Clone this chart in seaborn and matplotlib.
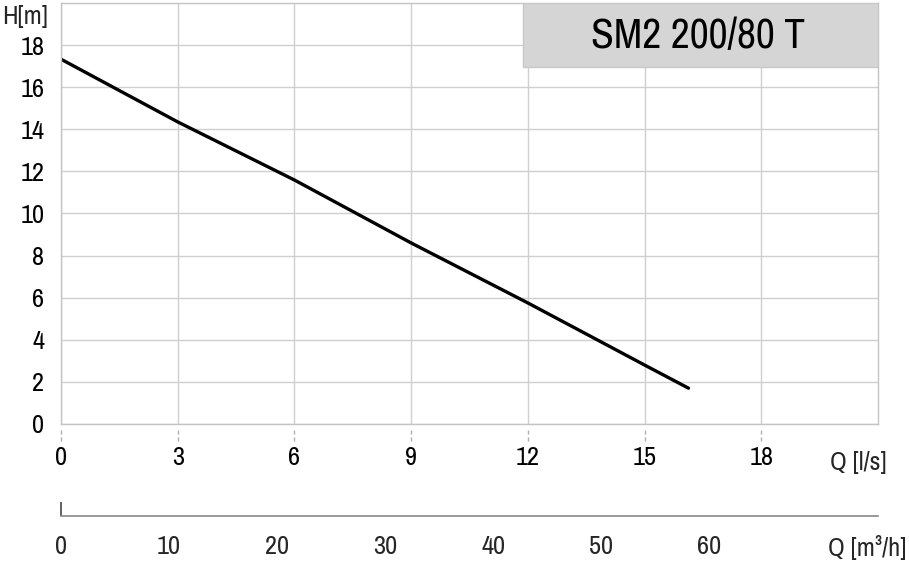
import matplotlib
matplotlib.use("Agg")
import matplotlib.pyplot as plt
import matplotlib.font_manager as fm
import numpy as np
import pandas as pd
import seaborn as sns

# Pump performance curve: head H versus flow Q
flow_ls = [0.0, 3.0, 6.0, 9.0, 12.0, 15.0, 16.13]
head_m = [17.33, 14.35, 11.59, 8.6, 5.75, 2.8, 1.7]

x_ticks_ls = [0, 3, 6, 9, 12, 15, 18]
y_ticks_m = [0, 2, 4, 6, 8, 10, 12, 14, 16, 18]
x_ticks_m3h = [0, 10, 20, 30, 40, 50, 60]
model_name = "SM2 200/80 T"

sns.set_style("white")
names = {f.name for f in fm.fontManager.ttflist}
fam = [f for f in ["Archivo Narrow", "Roboto Condensed", "Liberation Sans", "DejaVu Sans"] if f in names]
plt.rcParams["font.family"] = fam
FS = 19

fig = plt.figure(figsize=(9.09, 5.62), dpi=100)
ax = fig.add_axes([0.0671, 0.2456, 0.8988, 0.7491])

df = pd.DataFrame({"Q": flow_ls, "H": head_m})
sns.lineplot(data=df, x="Q", y="H", ax=ax, color="black", linewidth=2.4)

ax.set_xlim(0, 21)
ax.set_ylim(0, 20)
ax.set_xticks(x_ticks_ls)
ax.set_yticks(y_ticks_m)
ax.grid(True, color="#cfcfcf", linewidth=1.0)
for s in ax.spines.values():
    s.set_color("#c4c4c4")
    s.set_linewidth(1.0)
ax.tick_params(axis="both", length=0, labelsize=FS, labelcolor="black")
ax.tick_params(axis="x", pad=16)
ax.tick_params(axis="y", pad=12)
ax.set_xlabel("")
ax.set_ylabel("")

# dashed tick marks under the flow axis
ax.vlines(x_ticks_ls, -0.015, -0.042, transform=ax.get_xaxis_transform(),
          colors="#b0b0b0", linewidth=1.0, linestyles=(0, (3, 2)), clip_on=False)

# model name box
ax.add_patch(plt.Rectangle((0.5655, 0.848), 0.4345, 0.152, transform=ax.transAxes,
                           facecolor="#d5d5d5", edgecolor="#c8c8c8", linewidth=1.0, zorder=3))
ax.text(0.780, 0.922, model_name, transform=ax.transAxes, ha="center", va="center",
        fontsize=30, color="black", zorder=4)

fig.text(2 / 909, 1 - 17 / 562, "H[m]", ha="left", va="center", fontsize=FS)
fig.text(887 / 909, 1 - 462 / 562, "Q [l/s]", ha="right", va="center", fontsize=FS)

# secondary flow scale in m3/h
ax2 = fig.add_axes([0.0671, 0.0819, 0.8988, 0.001])
ax2.set_xlim(0, 21 * 3.6)
ax2.set_xticks(x_ticks_m3h)
ax2.set_yticks([])
for k in ["top", "left", "right"]:
    ax2.spines[k].set_visible(False)
ax2.spines["bottom"].set_color("#888888")
ax2.spines["bottom"].set_linewidth(1.2)
ax2.tick_params(axis="x", direction="out", length=10, width=1.3, color="#555555",
                labelsize=FS, pad=4)
ax2.set_facecolor("none")
ax2.vlines([0], 0, 14 / 562 / 0.001, transform=ax2.get_xaxis_transform(),
           colors="#555555", linewidth=1.3, clip_on=False)
fig.text(906 / 909, 1 - 548 / 562, "Q [m³/h]", ha="right", va="center", fontsize=FS)

fig.savefig("out.png", dpi=100)
